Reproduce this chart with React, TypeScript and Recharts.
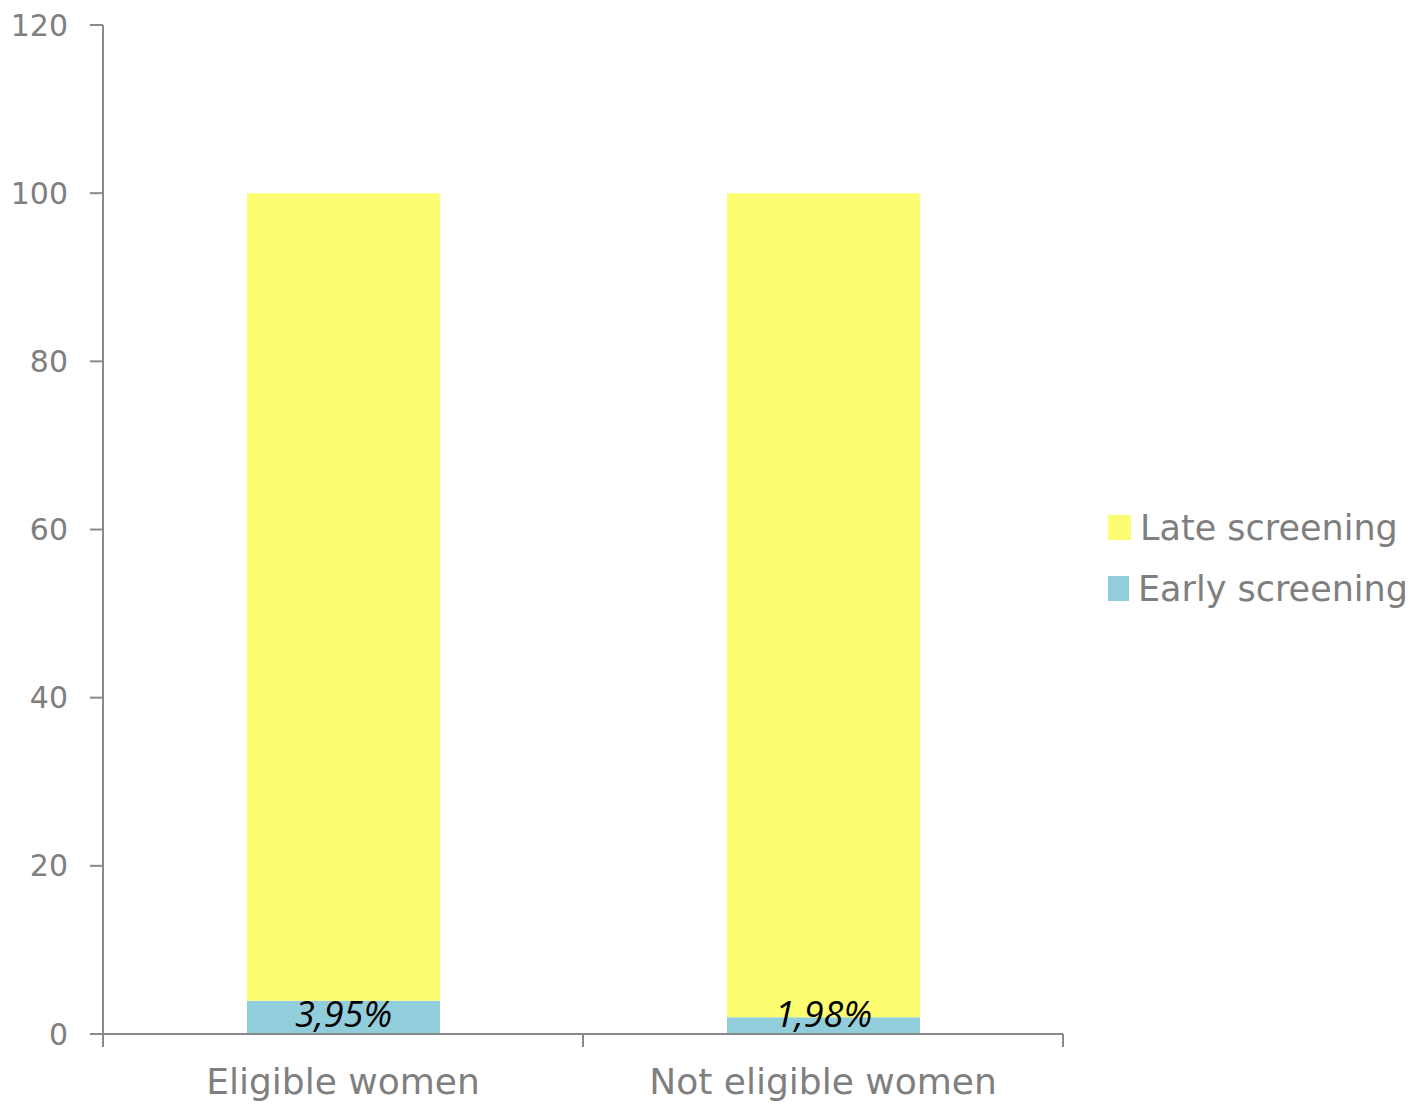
import React from "react"
import { BarChart, Bar, XAxis, YAxis, Legend, LabelList } from "recharts"

const categories = ["Eligible women", "Not eligible women"]
const earlyScreening = [3.95, 1.98]
const lateScreening = [96.05, 98.02]
const earlyLabels = ["3,95%", "1,98%"]
const yTicks = [0, 20, 40, 60, 80, 100, 120]

const data = categories.map((name, i) => ({
  name,
  early: earlyScreening[i],
  late: lateScreening[i],
  label: earlyLabels[i],
}))

const GRAY = "#8a8a8a"
const TEXT = "#7f7f7f"
const FONT = "'DejaVu Sans', sans-serif"
const BAND = 480

const XTick = (props: any) => {
  const { x, y, payload, index } = props
  const axisY = y - 8
  return (
    <g>
      <line x1={x - BAND / 2} x2={x - BAND / 2} y1={axisY} y2={axisY + 13} stroke={GRAY} strokeWidth={2} />
      {index === categories.length - 1 && (
        <line x1={x + BAND / 2} x2={x + BAND / 2} y1={axisY} y2={axisY + 13} stroke={GRAY} strokeWidth={2} />
      )}
      <text x={x} y={axisY + 60} textAnchor="middle" fill={TEXT} fontSize={36} fontFamily={FONT}>
        {payload.value}
      </text>
    </g>
  )
}

const EarlyLabel = (props: any) => {
  const { x, y, width, height, value } = props
  return (
    <text
      x={x + width / 2}
      y={y + height - 7}
      textAnchor="middle"
      fontSize={36}
      fontStyle="italic"
      fontFamily="'Open Sans', sans-serif"
      fill="#000"
    >
      {value}
    </text>
  )
}

const LegendContent = () => {
  const items = [
    { name: "Late screening", color: "#fdfd72" },
    { name: "Early screening", color: "#92cddc" },
  ]
  return (
    <div style={{ fontFamily: FONT, fontSize: 35, color: TEXT }}>
      {items.map((it) => (
        <div key={it.name} style={{ display: "flex", alignItems: "center", height: 61 }}>
          <span style={{ display: "inline-block", width: 23, height: 25, background: it.color, marginRight: 9 }} />
          <span style={{ whiteSpace: "nowrap" }}>{it.name}</span>
        </div>
      ))}
    </div>
  )
}

export default function App() {
  return (
    <BarChart
      width={1400}
      height={1100}
      data={data}
      margin={{ top: 17, right: 45, left: 0, bottom: 0 }}
      barSize={193}
    >
      <XAxis
        dataKey="name"
        height={74}
        axisLine={{ stroke: GRAY, strokeWidth: 2 }}
        tickLine={false}
        tick={<XTick />}
        interval={0}
      />
      <YAxis
        width={95}
        domain={[0, 120]}
        ticks={yTicks}
        axisLine={{ stroke: GRAY, strokeWidth: 2 }}
        tickLine={{ stroke: GRAY, strokeWidth: 2 }}
        tickSize={13}
        tickMargin={22}
        tick={{ fill: TEXT, fontSize: 30, fontFamily: FONT }}
      />
      <Legend
        layout="vertical"
        align="right"
        verticalAlign="middle"
        content={<LegendContent />}
        wrapperStyle={{ right: 0, left: 1100, width: 300 }}
      />
      <Bar dataKey="early" stackId="a" fill="#92cddc" isAnimationActive={false}>
        <LabelList dataKey="label" content={<EarlyLabel />} />
      </Bar>
      <Bar dataKey="late" stackId="a" fill="#fdfd72" isAnimationActive={false} />
    </BarChart>
  )
}
